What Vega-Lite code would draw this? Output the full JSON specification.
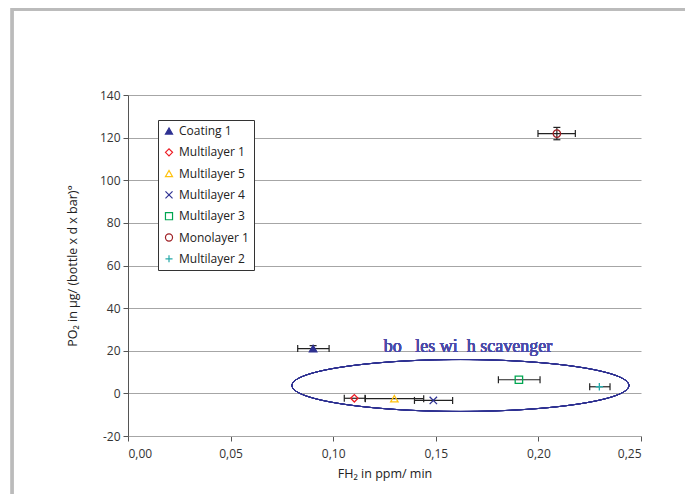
{
  "$schema": "https://vega.github.io/schema/vega-lite/v6.json",
  "width": 513,
  "height": 341,
  "autosize": "none",
  "padding": {"left": 128, "top": 95, "right": 44, "bottom": 58},
  "background": "white",
  "config": {
    "view": {"stroke": null},
    "font": "Open Sans",
    "axis": {
      "labelFont": "Open Sans",
      "labelFontSize": 12,
      "labelColor": "#333333",
      "titleFont": "Open Sans",
      "titleFontSize": 12.5,
      "titleFontWeight": "normal",
      "titleColor": "#222222",
      "tickSize": 5,
      "tickWidth": 1,
      "domainWidth": 1
    }
  },
  "data": {
    "values": [
      {"series": "Coating 1", "x": 0.0902, "y": 21.0, "xmin": 0.0827, "xmax": 0.098, "ymin": 19.8, "ymax": 22.4},
      {"series": "Multilayer 1", "x": 0.1103, "y": -2.3, "xmin": 0.1054, "xmax": 0.1155, "ymin": null, "ymax": null},
      {"series": "Multilayer 5", "x": 0.1298, "y": -2.5, "xmin": 0.1157, "xmax": 0.1441, "ymin": null, "ymax": null},
      {"series": "Multilayer 4", "x": 0.1488, "y": -3.3, "xmin": 0.1396, "xmax": 0.1582, "ymin": null, "ymax": null},
      {"series": "Multilayer 3", "x": 0.1905, "y": 6.4, "xmin": 0.1805, "xmax": 0.2008, "ymin": null, "ymax": null},
      {"series": "Monolayer 1", "x": 0.209, "y": 121.9, "xmin": 0.1998, "xmax": 0.218, "ymin": 119.0, "ymax": 124.8},
      {"series": "Multilayer 2", "x": 0.2297, "y": 3.1, "xmin": 0.225, "xmax": 0.2349, "ymin": null, "ymax": null}
    ]
  },
  "layer": [
    {
      "mark": {"type": "rect", "fill": null, "stroke": "#bbbbbb", "strokeWidth": 2.5, "clip": false},
      "encoding": {
        "x": {"datum": -0.0565, "type": "quantitative", "scale": {"domain": [0, 0.25], "nice": false}},
        "x2": {"datum": 0.35},
        "y": {"datum": 180.2, "type": "quantitative", "scale": {"domain": [-20, 140], "nice": false}},
        "y2": {"datum": -80}
      }
    },
    {
      "mark": {"type": "point", "shape": "M -1 0 A 1 0.154 0 1 1 1 0 A 1 0.154 0 1 1 -1 0", "size": 113569, "filled": false, "opacity": 1, "stroke": "#2e3192", "strokeWidth": 1},
      "encoding": {
        "x": {"datum": 0.162, "type": "quantitative"},
        "y": {"datum": 3.7, "type": "quantitative"}
      }
    },
    {
      "mark": {"type": "text", "text": "bo\u00a0\u00a0\u00a0les wi\u00a0\u00a0h scavenger", "font": "Times New Roman, Liberation Serif, serif", "fontSize": 18, "fontWeight": 400, "color": "#4b4baa", "align": "center", "baseline": "middle"},
      "encoding": {
        "x": {"datum": 0.1657, "type": "quantitative"},
        "y": {"datum": 21.6, "type": "quantitative"}
      }
    },
    {
      "mark": {"type": "rule", "color": "#222222", "strokeWidth": 1.2},
      "encoding": {
        "x": {"field": "xmin", "type": "quantitative"},
        "x2": {"field": "xmax"},
        "y": {"field": "y", "type": "quantitative"}
      }
    },
    {
      "transform": [{"filter": "datum.ymin != null"}],
      "mark": {"type": "rule", "color": "#222222", "strokeWidth": 1.2},
      "encoding": {
        "x": {"field": "x", "type": "quantitative"},
        "y": {"field": "ymin", "type": "quantitative"},
        "y2": {"field": "ymax"}
      }
    },
    {
      "mark": {"type": "tick", "orient": "vertical", "color": "#222222", "thickness": 1.2, "size": 7, "opacity": 1},
      "encoding": {
        "x": {"field": "xmin", "type": "quantitative"},
        "y": {"field": "y", "type": "quantitative"}
      }
    },
    {
      "mark": {"type": "tick", "orient": "vertical", "color": "#222222", "thickness": 1.2, "size": 7, "opacity": 1},
      "encoding": {
        "x": {"field": "xmax", "type": "quantitative"},
        "y": {"field": "y", "type": "quantitative"}
      }
    },
    {
      "transform": [{"filter": "datum.ymin != null"}],
      "mark": {"type": "tick", "orient": "horizontal", "color": "#222222", "thickness": 1.2, "size": 7, "opacity": 1},
      "encoding": {
        "x": {"field": "x", "type": "quantitative"},
        "y": {"field": "ymin", "type": "quantitative"}
      }
    },
    {
      "transform": [{"filter": "datum.ymin != null"}],
      "mark": {"type": "tick", "orient": "horizontal", "color": "#222222", "thickness": 1.2, "size": 7, "opacity": 1},
      "encoding": {
        "x": {"field": "x", "type": "quantitative"},
        "y": {"field": "ymax", "type": "quantitative"}
      }
    },
    {
      "mark": {"type": "point", "opacity": 1, "strokeWidth": 1.3, "size": 55},
      "encoding": {
        "x": {
          "field": "x", "type": "quantitative",
          "scale": {"domain": [0, 0.25], "nice": false},
          "axis": {
            "values": [0, 0.05, 0.1, 0.15, 0.2, 0.25],
            "labelExpr": "replace(format(datum.value, '.2f'), '.', ',')",
            "grid": false,
            "domainColor": "#a6a6a6",
            "tickColor": "#555555",
            "labelPadding": 7,
            "title": "FH₂ in ppm/ min",
            "titlePadding": 8
          }
        },
        "y": {
          "field": "y", "type": "quantitative",
          "scale": {"domain": [-20, 140], "nice": false},
          "axis": {
            "values": [-20, 0, 20, 40, 60, 80, 100, 120, 140],
            "labelExpr": "datum.value < 0 ? '-' + abs(datum.value) : '' + datum.value",
            "grid": true,
            "gridColor": "#a6a6a6",
            "gridWidth": 1,
            "domainColor": "#555555",
            "tickColor": "#555555",
            "labelPadding": 3,
            "title": "PO₂ in µg/ (bottle x d x bar)°",
            "titlePadding": 20
          }
        },
        "shape": {
          "field": "series", "type": "nominal",
          "scale": {
            "domain": ["Coating 1", "Multilayer 1", "Multilayer 5", "Multilayer 4", "Multilayer 3", "Monolayer 1", "Multilayer 2"],
            "range": ["triangle-up", "diamond", "triangle-up", "M -1 -1 L 1 1 M -1 1 L 1 -1", "square", "circle", "M -1 0 L 1 0 M 0 -1 L 0 1"]
          },
          "legend": {"title": null, "orient": "none", "legendX": 30, "legendY": 25, "strokeColor": "#333333", "fillColor": "white", "padding": 5, "rowPadding": 9.3, "labelFont": "Open Sans", "labelFontSize": 12, "labelColor": "#222222", "symbolSize": 50, "symbolStrokeWidth": 1.2, "labelOffset": 4}
        },
        "stroke": {
          "field": "series", "type": "nominal",
          "scale": {
            "domain": ["Coating 1", "Multilayer 1", "Multilayer 5", "Multilayer 4", "Multilayer 3", "Monolayer 1", "Multilayer 2"],
            "range": ["#2e3192", "#ed1c24", "#ffc20e", "#2e3192", "#00a651", "#9e1f24", "#26a9a9"]
          },
          "legend": {"title": null, "orient": "none", "legendX": 30, "legendY": 25, "strokeColor": "#333333", "fillColor": "white", "padding": 5, "rowPadding": 9.3, "labelFont": "Open Sans", "labelFontSize": 12, "labelColor": "#222222", "symbolSize": 50, "symbolStrokeWidth": 1.2, "labelOffset": 4}
        },
        "fill": {
          "field": "series", "type": "nominal",
          "scale": {
            "domain": ["Coating 1", "Multilayer 1", "Multilayer 5", "Multilayer 4", "Multilayer 3", "Monolayer 1", "Multilayer 2"],
            "range": ["#2e3192", "transparent", "transparent", "transparent", "transparent", "transparent", "transparent"]
          },
          "legend": {"title": null, "orient": "none", "legendX": 30, "legendY": 25, "strokeColor": "#333333", "fillColor": "white", "padding": 5, "rowPadding": 9.3, "labelFont": "Open Sans", "labelFontSize": 12, "labelColor": "#222222", "symbolSize": 50, "symbolStrokeWidth": 1.2, "labelOffset": 4}
        }
      }
    }
  ]
}
